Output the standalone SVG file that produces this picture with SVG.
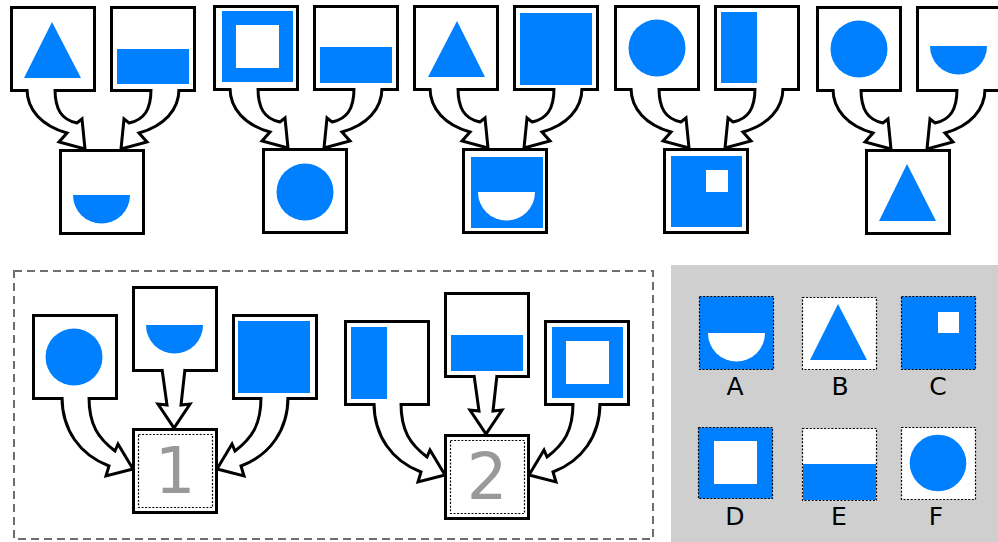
<svg xmlns="http://www.w3.org/2000/svg" xmlns:xlink="http://www.w3.org/1999/xlink" width="998" height="542" viewBox="0 0 998 542">
  <style>
    .box { fill:#fff; stroke:#000; stroke-width:3; }
    .blue { fill:#007fff; }
    .white { fill:#fff; }
    .arrow { fill:#fff; stroke:#000; stroke-width:3; stroke-linejoin:miter; }
    .dot { fill:none; stroke:#000; stroke-width:1.2; stroke-dasharray:2 1.6; }
    .dotbox { stroke:#000; stroke-width:1.2; stroke-dasharray:2 1.6; }
    .lbl { font-family:"DejaVu Sans", "Liberation Sans", sans-serif; font-size:25px; text-anchor:middle; fill:#000; }
    .num { font-family:"DejaVu Sans", "Liberation Sans", sans-serif; font-size:64px; text-anchor:middle; fill:#999; }
  </style>
  <defs>
    <!-- curved block arrow from the upper-left box down into the result box -->
    <path id="arrTop" class="arrow" d="M27,89 C27,110 42,126 67,133 L59,142 L85,149 L82,119 L77,123 C62,120 55,110 55,89"/>
    <!-- curved block arrow from a side box into the side of the result box -->
    <path id="arrSide" class="arrow" d="M62,397 C62,430 80,455 109,466 L106,476 L133,469 L118,444 L115,451 C98,438 89,425 89,397"/>
    <!-- straight block arrow from the middle box -->
    <path id="arrMid" class="arrow" d="M162,369 L167,405 L158,404 L174,428 L190,404 L181,405 L185,369"/>
  </defs>

  <!-- backgrounds -->
  <rect x="0" y="0" width="998" height="542" fill="#fff"/>
  <rect x="671" y="265" width="327" height="277" fill="#cfcfcf"/>
  <rect x="14" y="271" width="639" height="268" fill="none" stroke="#6e6e6e" stroke-width="2" stroke-dasharray="8 5"/>

  <!-- example 1 -->
  <g id="ex1-a"><rect class="box" x="11.5" y="7.5" width="83" height="83"/><polygon class="blue" points="52,22 24,78 81,78"/></g>
  <g id="ex1-b"><rect class="box" x="111.5" y="7.5" width="83" height="83"/><rect class="blue" x="117" y="49" width="72" height="35"/></g>
  <g id="ex1-r"><rect class="box" x="60.5" y="150.5" width="83" height="83"/><path class="blue" d="M73,195 A28.5,28.5 0 0 0 130,195 Z"/></g>

  <!-- example 2 -->
  <g id="ex2-a"><rect class="box" x="214.5" y="6.5" width="83" height="83"/><rect class="blue" x="222" y="11" width="71" height="71"/><rect class="white" x="236" y="25" width="43" height="43"/></g>
  <g id="ex2-b"><rect class="box" x="314.5" y="6.5" width="83" height="83"/><rect class="blue" x="320" y="47" width="72" height="36"/></g>
  <g id="ex2-r"><rect class="box" x="263.5" y="149.5" width="83" height="83"/><circle class="blue" cx="305" cy="192" r="28.5"/></g>

  <!-- example 3 -->
  <g id="ex3-a"><rect class="box" x="414.5" y="6.5" width="83" height="83"/><polygon class="blue" points="457,21 428,77 485,77"/></g>
  <g id="ex3-b"><rect class="box" x="514.5" y="6.5" width="83" height="83"/><rect class="blue" x="520" y="13" width="72" height="72"/></g>
  <g id="ex3-r"><rect class="box" x="463.5" y="149.5" width="83" height="83"/><rect class="blue" x="471" y="157" width="72" height="71"/><path class="white" d="M478,192 A28.5,28.5 0 0 0 535,192 Z"/></g>

  <!-- example 4 -->
  <g id="ex4-a"><rect class="box" x="615.5" y="6.5" width="83" height="83"/><circle class="blue" cx="657" cy="48" r="28.5"/></g>
  <g id="ex4-b"><rect class="box" x="715.5" y="6.5" width="83" height="83"/><rect class="blue" x="721" y="12" width="36" height="71"/></g>
  <g id="ex4-r"><rect class="box" x="664.5" y="149.5" width="83" height="83"/><rect class="blue" x="671" y="156" width="71" height="71"/><rect class="white" x="706" y="170" width="22" height="22"/></g>

  <!-- example 5 -->
  <g id="ex5-a"><rect class="box" x="817.5" y="7.5" width="83" height="83"/><circle class="blue" cx="859" cy="49" r="28.5"/></g>
  <g id="ex5-b"><rect class="box" x="917.5" y="7.5" width="83" height="83"/><path class="blue" d="M930,46 A28.5,28.5 0 0 0 987,46 Z"/></g>
  <g id="ex5-r"><rect class="box" x="866.5" y="150.5" width="83" height="83"/><polygon class="blue" points="907,164 879,221 936,221"/></g>

  <!-- question 1 -->
  <g id="q1-a"><rect class="box" x="33.5" y="315.5" width="83" height="83"/><circle class="blue" cx="74" cy="357" r="28.5"/></g>
  <g id="q1-b"><rect class="box" x="133.5" y="287.5" width="83" height="83"/><path class="blue" d="M146,325 A28.5,28.5 0 0 0 203,325 Z"/></g>
  <g id="q1-c"><rect class="box" x="233.5" y="315.5" width="83" height="83"/><rect class="blue" x="238" y="321" width="72" height="72"/></g>
  <g id="q1-r"><rect class="box" x="133.5" y="429.5" width="83" height="83"/><rect class="dot" x="138.5" y="434.5" width="74" height="73"/><text class="num" x="175" y="493">1</text></g>

  <!-- question 2 -->
  <g id="q2-a"><rect class="box" x="345.5" y="321.5" width="83" height="83"/><rect class="blue" x="351" y="327" width="36" height="72"/></g>
  <g id="q2-b"><rect class="box" x="445.5" y="293.5" width="83" height="83"/><rect class="blue" x="451" y="335" width="72" height="36"/></g>
  <g id="q2-c"><rect class="box" x="545.5" y="321.5" width="83" height="83"/><rect class="blue" x="552" y="327" width="71" height="71"/><rect class="white" x="566" y="341" width="43" height="43"/></g>
  <g id="q2-r"><rect class="box" x="445.5" y="435.5" width="83" height="83"/><rect class="dot" x="450.5" y="440.5" width="74" height="73"/><text class="num" x="487" y="499">2</text></g>

  <!-- answer options -->
  <g id="opt-A"><rect class="blue dotbox" x="699.5" y="296.5" width="74" height="73"/><path class="white" d="M708,333 A28.5,28.5 0 0 0 765,333 Z"/><text class="lbl" x="735" y="395">A</text></g>
  <g id="opt-B"><rect class="white dotbox" x="802.5" y="297.5" width="74" height="72"/><polygon class="blue" points="838,304 810,360 867,360"/><text class="lbl" x="840" y="395">B</text></g>
  <g id="opt-C"><rect class="blue dotbox" x="901.5" y="296.5" width="74" height="73"/><rect class="white" x="938" y="312" width="21" height="21"/><text class="lbl" x="938" y="395">C</text></g>
  <g id="opt-D"><rect class="blue dotbox" x="698.5" y="427.5" width="74" height="71"/><rect class="white" x="714" y="441" width="43" height="43"/><text class="lbl" x="735" y="525">D</text></g>
  <g id="opt-E"><rect class="white dotbox" x="802.5" y="428.5" width="74" height="72"/><rect class="blue" x="803" y="464" width="73" height="36"/><text class="lbl" x="839" y="525">E</text></g>
  <g id="opt-F"><rect class="white dotbox" x="901.5" y="427.5" width="74" height="72"/><circle class="blue" cx="938" cy="463" r="28.3"/><text class="lbl" x="936" y="525">F</text></g>

  <!-- connectors -->
  <g id="connectors">
    <use xlink:href="#arrTop"/>
    <use xlink:href="#arrTop" transform="translate(206,0) scale(-1,1)"/>
    <use xlink:href="#arrTop" transform="translate(203,-1)"/>
    <use xlink:href="#arrTop" transform="translate(409,-1) scale(-1,1)"/>
    <use xlink:href="#arrTop" transform="translate(403,-1)"/>
    <use xlink:href="#arrTop" transform="translate(609,-1) scale(-1,1)"/>
    <use xlink:href="#arrTop" transform="translate(604,-1)"/>
    <use xlink:href="#arrTop" transform="translate(810,-1) scale(-1,1)"/>
    <use xlink:href="#arrTop" transform="translate(806,0)"/>
    <use xlink:href="#arrTop" transform="translate(1012,0) scale(-1,1)"/>

    <use xlink:href="#arrSide"/>
    <use xlink:href="#arrMid"/>
    <use xlink:href="#arrSide" transform="translate(350,0) scale(-1,1)"/>
    <use xlink:href="#arrSide" transform="translate(312,6)"/>
    <use xlink:href="#arrMid" transform="translate(312,6)"/>
    <use xlink:href="#arrSide" transform="translate(662,6) scale(-1,1)"/>
  </g>
</svg>
